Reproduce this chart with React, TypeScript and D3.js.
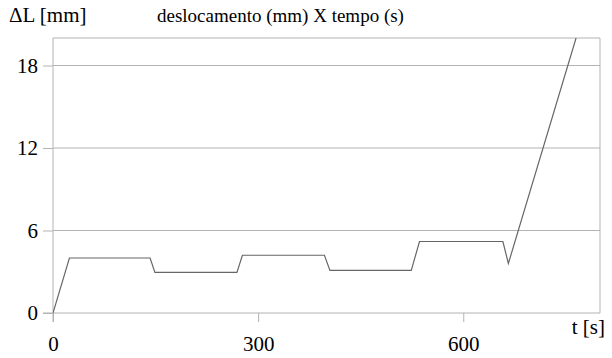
import { useEffect, useRef } from "react";
import * as d3 from "d3";

// deslocamento (mm) x tempo (s)
const tempo = [0, 24, 142, 149, 269, 277, 397, 405, 524, 536, 658, 666, 765];
const deslocamento = [0, 4.0, 4.0, 2.95, 2.95, 4.2, 4.2, 3.1, 3.1, 5.2, 5.2, 3.6, 20];
const xTicks = [0, 300, 600];
const yTicks = [0, 6, 12, 18];

const width = 612;
const height = 358;

const App = () => {
  const ref = useRef<SVGSVGElement>(null);

  useEffect(() => {
    const svg = d3.select(ref.current);
    svg.selectAll("*").remove();

    const left = 53;
    const right = 600;
    const top = 38;
    const bottom = 313;

    const x = d3.scaleLinear().domain([0, 800]).range([left, right]);
    const y = d3.scaleLinear().domain([0, 20]).range([bottom, top]);
    const font = "Liberation Serif";
    const grey = "#b3b3b3";

    // grid horizontal
    svg
      .append("g")
      .selectAll("line")
      .data(yTicks.filter((d) => d > 0))
      .enter()
      .append("line")
      .attr("x1", left)
      .attr("x2", right)
      .attr("y1", (d) => y(d))
      .attr("y2", (d) => y(d))
      .attr("stroke", grey);

    // moldura
    svg
      .append("path")
      .attr("d", `M${left},${top}H${right}V${bottom}`)
      .attr("fill", "none")
      .attr("stroke", grey);

    // eixo y
    const yAxis = d3.axisLeft(y).tickValues(yTicks).tickSize(10).tickPadding(5);
    svg
      .append("g")
      .attr("transform", `translate(${left},0)`)
      .call(yAxis)
      .attr("font-family", font)
      .attr("font-size", 21)
      .call((g) => g.select(".domain").attr("stroke", grey).attr("d", `M0,${top}V${bottom + 9}`))
      .call((g) => g.selectAll(".tick line").attr("stroke", grey))
      .call((g) => g.selectAll(".tick text").attr("fill", "#000"));

    // eixo x
    const xAxis = d3.axisBottom(x).tickValues(xTicks).tickSize(9).tickPadding(14);
    svg
      .append("g")
      .attr("transform", `translate(0,${bottom})`)
      .call(xAxis)
      .attr("font-family", font)
      .attr("font-size", 21)
      .call((g) => g.select(".domain").attr("stroke", grey).attr("d", `M${left - 10},0H${right}`))
      .call((g) => g.selectAll(".tick line").attr("stroke", grey))
      .call((g) => g.selectAll(".tick text").attr("fill", "#000"));

    // linha
    const pts = tempo.map((t, i) => [t, deslocamento[i]] as [number, number]);
    const line = d3
      .line<[number, number]>()
      .x((d) => x(d[0]))
      .y((d) => y(d[1]));

    svg
      .append("clipPath")
      .attr("id", "area")
      .append("rect")
      .attr("x", left)
      .attr("y", top)
      .attr("width", right - left)
      .attr("height", bottom - top);

    svg
      .append("path")
      .datum(pts)
      .attr("clip-path", "url(#area)")
      .attr("fill", "none")
      .attr("stroke", "#666666")
      .attr("stroke-width", 1.2)
      .attr("d", line);

    // textos
    const label = (tx: number, ty: number, s: string, size: number, anchor = "start") =>
      svg
        .append("text")
        .attr("x", tx)
        .attr("y", ty)
        .attr("text-anchor", anchor)
        .attr("font-family", font)
        .attr("font-size", size)
        .text(s);

    label(9, 22, "ΔL [mm]", 21);
    label(157, 22, "deslocamento (mm) X tempo (s)", 19);
    label(605, 334, "t [s]", 21, "end");
  }, []);

  return (
    <svg
      ref={ref}
      width={width}
      height={height}
      style={{ position: "absolute", left: 0, top: 0, background: "#fff" }}
    />
  );
};

export default App;
